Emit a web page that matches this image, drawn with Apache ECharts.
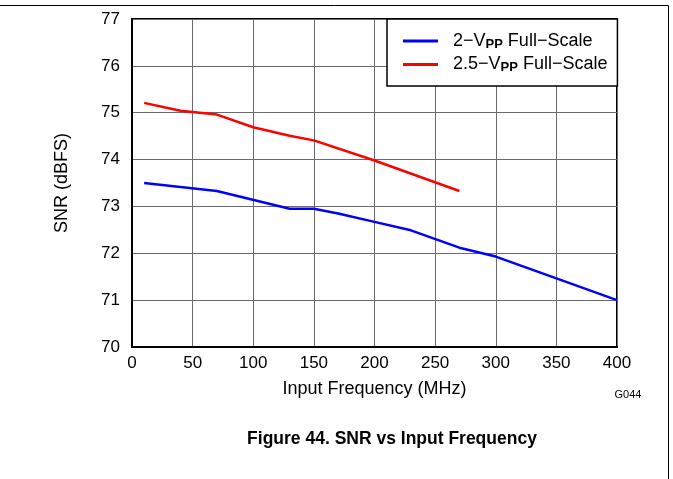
<!DOCTYPE html>
<html>
<head>
<meta charset="utf-8">
<script src="https://cdn.jsdelivr.net/npm/echarts@6/dist/echarts.min.js"></script>
<style>html,body{margin:0;padding:0;background:#fff;}#c{width:673px;height:479px;}</style>
</head>
<body>
<div id="c"></div>
<script>
var freq2V = [10, 70, 130, 150, 170, 200, 230, 270, 300, 400];
var snr2V = [73.5, 73.33, 72.95, 72.95, 72.85, 72.67, 72.49, 72.12, 71.93, 71.0];
var freq25V = [10, 40, 70, 100, 130, 150, 200, 270];
var snr25V = [75.21, 75.04, 74.96, 74.69, 74.51, 74.41, 73.98, 73.33];
var seriesNames = ['2−V|PP| Full−Scale', '2.5−V|PP| Full−Scale'];
var xTicks = [0, 50, 100, 150, 200, 250, 300, 350, 400];
var yTicks = [70, 71, 72, 73, 74, 75, 76, 77];

function pairs(xs, ys) { return xs.map(function (x, i) { return [x, ys[i]]; }); }
var FONT = 'Liberation Sans, Arial, sans-serif';
var chart = echarts.init(document.getElementById('c'));
chart.setOption({
  animation: false,
  backgroundColor: '#fff',
  textStyle: { fontFamily: FONT },
  grid: { left: 132, right: 56, top: 19, bottom: 132, show: true, borderColor: '#000', borderWidth: 2, containLabel: false },
  xAxis: {
    type: 'value', min: xTicks[0], max: xTicks[xTicks.length - 1], interval: 50,
    name: 'Input Frequency (MHz)', nameLocation: 'middle', nameGap: 33,
    nameTextStyle: { fontSize: 18, color: '#000', fontFamily: FONT },
    axisLine: { lineStyle: { color: '#000', width: 2 } },
    axisTick: { show: false },
    axisLabel: { fontSize: 17, color: '#000', margin: 8, fontFamily: FONT },
    splitLine: { lineStyle: { color: '#6a6a6a', width: 1 } }
  },
  yAxis: {
    type: 'value', min: yTicks[0], max: yTicks[yTicks.length - 1], interval: 1,
    name: 'SNR (dBFS)', nameLocation: 'middle', nameGap: 61, nameRotate: 90,
    nameTextStyle: { fontSize: 18, color: '#000', fontFamily: FONT },
    axisLine: { lineStyle: { color: '#000', width: 2 } },
    axisTick: { show: false },
    axisLabel: { fontSize: 17, color: '#000', margin: 12, fontFamily: FONT },
    splitLine: { lineStyle: { color: '#6a6a6a', width: 1 } }
  },
  legend: {
    left: 387, top: 19, orient: 'vertical',
    backgroundColor: '#fff', borderColor: '#000', borderWidth: 1.5, borderRadius: 0,
    padding: [13, 10, 12, 16],
    itemWidth: 35, itemHeight: 3, itemGap: 5, icon: 'rect',
    data: seriesNames,
    formatter: function (n) {
      var p = n.split('|');
      return '{a|' + p[0] + '}{s|' + p[1] + '}{a|' + p[2] + '}';
    },
    textStyle: {
      padding: [0, 0, 0, 10],
      rich: {
        a: { fontSize: 18, color: '#000', fontFamily: FONT },
        s: { fontSize: 13, fontWeight: 'bold', color: '#000', fontFamily: FONT, padding: [6, 0, 0, 0] }
      }
    }
  },
  series: [
    { name: seriesNames[0], type: 'line', data: pairs(freq2V, snr2V), showSymbol: false, symbol: 'none',
      lineStyle: { color: '#0000ff', width: 2.5 }, itemStyle: { color: '#0000ff' } },
    { name: seriesNames[1], type: 'line', data: pairs(freq25V, snr25V), showSymbol: false, symbol: 'none',
      lineStyle: { color: '#ff0000', width: 2.5 }, itemStyle: { color: '#ff0000' } }
  ],
  graphic: [
    { type: 'line', shape: { x1: 0, y1: 5.5, x2: 668.5, y2: 5.5 }, style: { stroke: '#000', lineWidth: 1 } },
    { type: 'line', shape: { x1: 668.5, y1: 5.5, x2: 668.5, y2: 479 }, style: { stroke: '#000', lineWidth: 1 } },
    { type: 'text', x: 628, y: 395, style: { text: 'G044', fontSize: 11, fill: '#000', fontFamily: FONT, textAlign: 'center', textVerticalAlign: 'middle' } },
    { type: 'text', x: 392, y: 439, style: { text: 'Figure 44. SNR vs Input Frequency', fontSize: 17.5, fontWeight: 'bold', fill: '#000', fontFamily: FONT, textAlign: 'center', textVerticalAlign: 'middle' } }
  ]
});
</script>
</body>
</html>
